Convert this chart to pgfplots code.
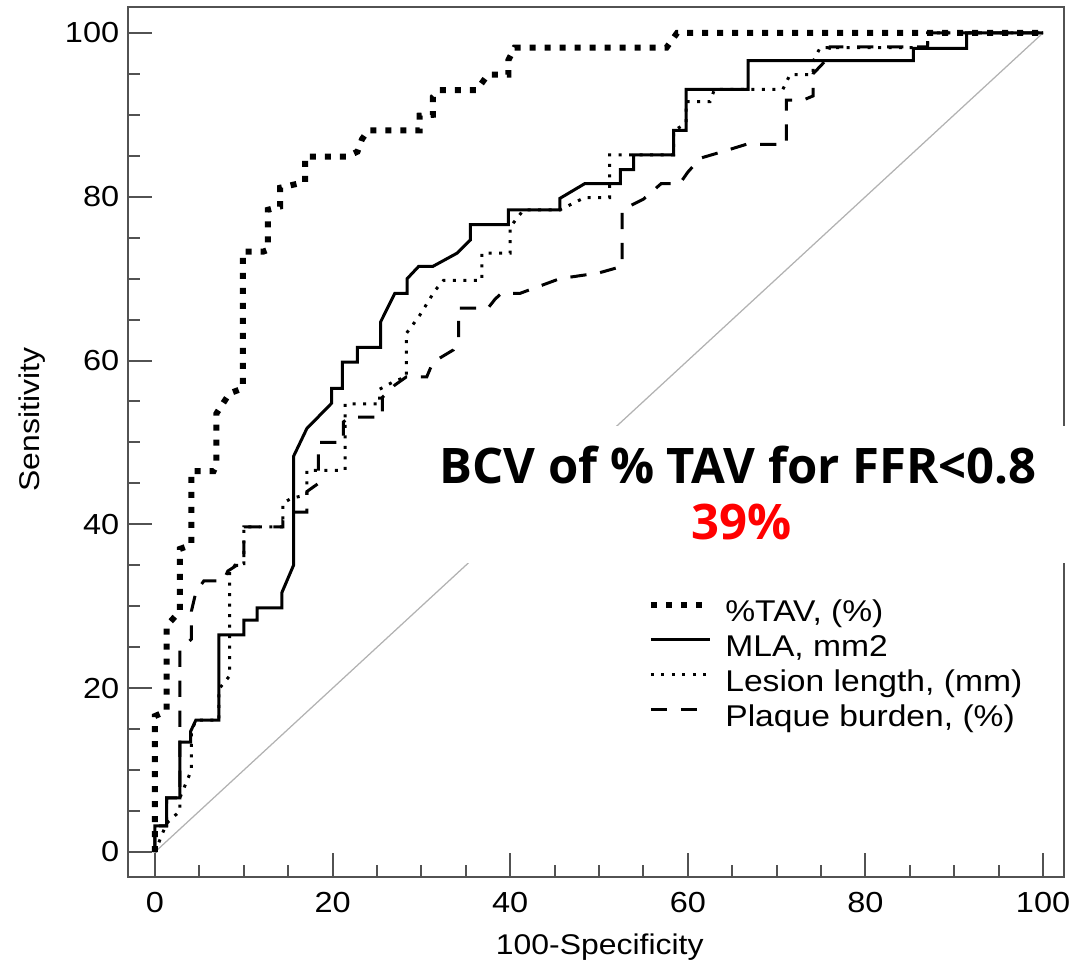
\documentclass[border=0pt]{standalone}
\usepackage{fontspec}
\setmainfont[FakeStretch=1.12]{Liberation Sans}
\newfontfamily\titlefont{Open Sans}
\usepackage{pgfplots}
\pgfplotsset{compat=1.18}
\begin{document}
\begin{tikzpicture}
\begin{axis}[
  scale only axis, width=374.4pt, height=347.8pt,
  xmin=-3.04, xmax=102.36, ymin=-3.05, ymax=103.1,
  xtick={0,20,...,100}, ytick={0,20,...,100},
  minor x tick num=3, minor y tick num=3,
  tick align=inside, xtick pos=bottom, ytick pos=left,
  major tick length=9.6pt, minor tick length=4.8pt,
  axis line style={draw=black!68, line width=0.8pt},
  tick style={draw=black!68, line width=0.8pt},
  tick label style={font=\fontsize{11.6}{13}\selectfont},
  /pgf/number format/assume math mode=true,
  xticklabel style={yshift=-2.5pt},
  xlabel={100-Specificity}, ylabel={Sensitivity},
  label style={font=\fontsize{11.4}{13}\selectfont},
  xlabel style={at={(axis description cs:0.504,-0.0897)}, anchor=base},
  ylabel style={at={(axis description cs:-0.1026,0.526)}, anchor=center},
  legend style={at={(axis cs:55.5,22.6)}, anchor=west, draw=none, fill=none,
    inner sep=0pt, outer sep=0pt, row sep=2.2pt,
    font=\fontsize{12}{14}\selectfont,
    nodes={inner sep=0pt, text height=8.8pt, text depth=3pt}},
  legend cell align=left,
  /tikz/every odd column/.append style={column sep=5pt},
  legend image code/.code={\draw[#1] (0pt,3.8pt) -- (23.6pt,3.8pt);},
  clip=false,
]
\addplot[gray!60, line width=0.5pt, forget plot] coordinates {(0,0) (100,100)};

\addplot[black, line width=2.4pt, dash pattern=on 2.4pt off 3.6pt] coordinates {
(0,0)(0,16.6)(1.3,17.2)(1.3,27.6)(2.8,29.4)(2.8,37)(4.1,37.5)(4.1,46.5)(6.6,46.5)(6.9,47.2)(6.9,53.5)(8.4,56)(9.9,56.6)(9.9,73.3)(12.2,73.3)(12.7,73.5)(12.7,78.4)(14.1,78.8)(14.1,81.1)(16.9,81.8)(16.9,84.9)(21.6,84.9)(22.8,85.5)(23.3,87)(24,88.1)(29.8,88.1)(29.8,89.9)(31.3,90)(31.3,92.2)(32,93)(36.2,93)(37.5,94.9)(39.8,94.9)(39.8,96.7)(40.5,98.2)(57.6,98.2)(58.8,100)(100,100)};
\addlegendentry{\%TAV, (\%)}

\addplot[black, line width=1.2pt] coordinates {
(0,0)(0,3.2)(1.3,3.2)(1.3,6.6)(2.8,6.6)(2.8,13.4)(4,13.4)(4,14.7)(4.6,16.1)(7.2,16.1)(7.2,26.5)(10,26.5)(10,28.3)(11.5,28.3)(11.5,29.8)(14.3,29.8)(14.3,31.7)(15.6,35)(15.6,48.3)(17.1,51.7)(19.9,54.8)(19.9,56.6)(21.1,56.6)(21.1,59.8)(22.8,59.8)(22.8,61.6)(25.4,61.6)(25.4,64.7)(27,68.2)(28.4,68.2)(28.4,70)(29.7,71.5)(31.3,71.5)(34,73.1)(35.5,74.7)(35.5,76.6)(39.8,76.6)(39.8,78.4)(45.6,78.4)(45.6,79.8)(48.4,81.6)(52.4,81.6)(52.4,83.3)(53.9,83.3)(53.9,85.1)(58.4,85.1)(58.4,88.1)(59.8,88.1)(59.8,93.1)(66.8,93.1)(66.8,96.6)(85.4,96.6)(85.4,98.1)(91.4,98.1)(91.4,100)(100,100)};
\addlegendentry{MLA, mm2}

\addplot[black, line width=1.2pt, dash pattern=on 1.2pt off 3pt] coordinates {
(0,0)(1.3,3.5)(2.8,5)(2.8,6.6)(4.1,10)(4.1,14.7)(4.6,16.1)(7.2,16.1)(7.2,19.9)(8.4,21.5)(8.4,34.4)(9.2,35.2)(10,35.2)(10,39.7)(14.4,39.7)(14.4,42.6)(15.4,43.2)(17.1,43.6)(17.1,46.6)(21.4,46.6)(21.4,54.7)(25.3,54.7)(25.3,56.5)(27,57.5)(28.3,58)(28.3,63.3)(29.8,65.5)(31.5,68.5)(32.5,69.8)(36.8,69.8)(36.8,73.1)(40,73.1)(40,76.3)(41.5,78.4)(45.6,78.4)(48.4,79.9)(51.2,79.9)(51.2,85.1)(58.4,85.1)(58.4,88)(59.8,89)(59.8,91.6)(62.5,91.6)(63,93.1)(70.7,93.1)(71.5,94.9)(74.1,94.9)(74.1,96.5)(74.9,98.2)(87,98.2)(87,100)(100,100)};
\addlegendentry{Lesion length, (mm)}

\addplot[black, line width=1.2pt, dash pattern=on 6.5pt off 5.5pt] coordinates {
(0,0)(0,3.2)(1.3,3.2)(1.3,6.6)(2.8,6.6)(2.8,24.6)(4.1,26)(4.1,29.4)(4.6,31.7)(5.5,33.1)(7.7,33.1)(8.2,34.3)(9.2,35)(10,35)(10,39.7)(14.4,39.7)(14.4,40.5)(15.6,41.5)(17.1,41.5)(17.1,44)(18.4,45)(18.4,50)(21.2,50)(21.2,52.5)(22,53.1)(25.6,53.1)(25.6,55.5)(27,57)(28.3,58)(30.6,58)(31.3,59.8)(33.6,61.3)(34.2,62.5)(34.2,66.4)(37.5,66.4)(38.3,67.5)(39,68.2)(41.1,68.2)(45.6,70)(50,70.7)(52.6,71.5)(52.6,78.4)(55,79.7)(57,81.6)(59.1,81.6)(60,83)(61.4,84.7)(64.2,85.6)(66.6,86.4)(71.1,86.4)(71.1,91.8)(73,91.8)(74.1,92.3)(74.1,95)(75.5,96.6)(76,98.3)(87,98.3)(87,100)(100,100)};
\addlegendentry{Plaque burden, (\%)}

\coordinate (bA) at (axis cs:30.2,35.3);
\coordinate (bB) at (axis cs:110,52);
\coordinate (tA) at (axis cs:65.65,45.0);
\coordinate (tB) at (axis cs:66.05,38.1);
\end{axis}
\fill[white] (bA) rectangle (bB);
\node[anchor=base, inner sep=0pt, font=\titlefont\bfseries\fontsize{19.6}{22}\selectfont] at (tA) {BCV of \% TAV for FFR<0.8};
\node[anchor=base, inner sep=0pt, text=red, font=\titlefont\bfseries\fontsize{19.6}{22}\selectfont] at (tB) {39\%};
\pgfresetboundingbox
\path ([shift={(-51.2pt,-34.8pt)}]current axis.south west) rectangle ([shift={(4pt,3pt)}]current axis.north east);
\end{tikzpicture}
\end{document}
